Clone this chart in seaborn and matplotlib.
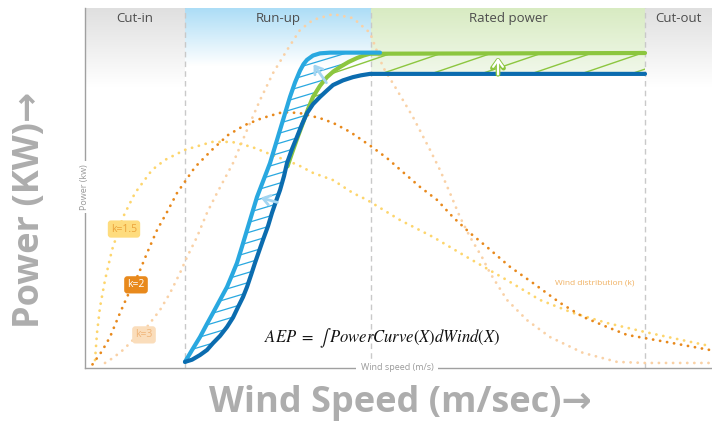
import numpy as np
import pandas as pd
import seaborn as sns
import matplotlib.pyplot as plt
import matplotlib.colors as mcolors
from matplotlib.patches import Polygon

# ---- data (x = wind speed, y = relative power / density in %) ----
regions = ['Cut-in', 'Run-up', 'Rated power', 'Cut-out']
region_edges = [0.0, 4.0, 11.44, 22.4, 25.08]

k15_x = [0.40, 0.48, 0.60, 0.80, 1.08, 1.52, 2.00, 2.68, 3.20, 4.00, 5.08, 5.88, 6.68, 7.48, 8.52,
         9.12, 9.92, 10.72, 11.28, 12.60, 13.92, 15.28, 16.88, 18.20, 19.52, 20.88, 22.40, 23.52, 25.00]
k15_y = [2.2, 9.7, 16.9, 24.4, 32.8, 41.9, 48.6, 55.0, 57.8, 60.6, 62.8, 62.8, 61.4, 59.2, 56.4,
         54.2, 52.2, 48.6, 46.7, 41.1, 36.4, 30.8, 24.4, 18.9, 15.3, 12.5, 10.0, 8.3, 6.1]

k2_x = [0.30, 0.68, 1.00, 1.40, 1.72, 2.12, 2.48, 2.88, 3.28, 3.68, 4.40, 5.08, 5.72, 6.40, 7.08,
        7.92, 8.60, 9.40, 9.92, 10.60, 11.48, 12.08, 12.72, 13.40, 14.08, 14.72, 15.40, 16.08,
        17.00, 17.92, 19.00, 19.92, 20.88, 21.68, 22.40, 23.52, 25.00]
k2_y = [1.0, 4.7, 8.6, 15.3, 20.3, 25.8, 31.9, 38.3, 43.3, 48.6, 55.8, 60.6, 64.7, 67.5, 69.4,
        71.1, 70.8, 69.4, 68.1, 65.6, 61.4, 58.3, 54.4, 50.3, 46.7, 41.9, 37.5, 33.6,
        28.1, 23.6, 18.1, 14.2, 11.4, 9.2, 8.3, 6.9, 5.0]

k3_x = [0.80, 1.12, 1.52, 1.92, 2.48, 3.00, 3.40, 3.80, 4.08, 4.48, 4.88, 5.28, 5.92, 6.48, 7.00,
        7.52, 8.08, 8.60, 9.12, 9.92, 10.72, 11.40, 11.92, 12.48, 13.12, 13.80, 14.20, 14.60,
        15.00, 15.40, 15.88, 16.20, 16.88, 17.68, 18.60, 19.92, 21.28, 22.40, 25.00]
k3_y = [1.4, 2.8, 5.0, 7.8, 11.4, 16.1, 20.8, 26.4, 30.8, 36.4, 43.1, 48.6, 56.9, 66.1, 74.4,
        81.9, 88.3, 93.9, 96.7, 98.3, 97.2, 93.1, 83.6, 77.2, 69.7, 60.6, 55.0, 48.6,
        41.9, 36.4, 30.8, 26.4, 18.9, 13.3, 8.6, 4.2, 1.7, 1.4, 1.4]

# power curves
base_x = [4.00, 4.28, 4.60, 4.88, 5.12, 5.40, 5.68, 5.92, 6.12, 6.32, 6.48, 6.64, 6.80, 6.96,
          7.12, 7.32, 7.48, 7.64, 7.80, 7.96, 8.08, 8.28, 8.48, 8.68, 8.88, 9.12, 9.40,
          9.68, 9.92, 10.32, 10.72, 11.04, 11.40, 22.40]
base_y = [1.7, 2.3, 3.6, 5.0, 6.9, 8.9, 11.4, 14.0, 16.9, 19.7, 22.5, 25.8, 29.2, 32.4,
          35.6, 39.4, 43.1, 46.3, 49.4, 53.3, 56.9, 60.8, 64.2, 67.7, 70.8, 73.3, 75.3,
          77.1, 78.6, 79.9, 80.8, 81.3, 81.7, 81.7]

runup_x = [4.00, 4.30, 4.60, 4.86, 5.12, 5.40, 5.68, 5.88, 6.08, 6.28, 6.48, 6.68, 6.88, 7.14,
           7.40, 7.60, 7.80, 8.00, 8.20, 8.40, 8.60, 8.74, 8.88, 9.12, 9.40, 9.80, 10.20, 11.80]
runup_y = [1.7, 5.2, 8.6, 12.0, 15.3, 18.9, 22.5, 25.8, 29.2, 33.7, 38.3, 42.9, 47.5, 52.2,
           56.9, 61.5, 66.1, 70.7, 75.3, 79.3, 82.6, 84.4, 85.6, 86.8, 87.4, 87.6, 87.6, 87.6]

rated_x = [8.10, 8.28, 8.50, 8.72, 8.92, 9.12, 9.40, 9.68, 9.94, 10.20, 10.54, 10.88, 11.14, 11.40, 22.40]
rated_y = [56.0, 59.7, 64.0, 68.1, 71.9, 75.3, 78.4, 80.8, 82.4, 83.6, 85.0, 86.1, 86.8, 87.3, 87.5]

k_labels = ['k=1.5', 'k=2', 'k=3']
k_label_x = [1.56, 2.04, 2.36]
k_label_y = [38.6, 23.1, 9.2]

# ---- styling ----
sns.set_style('white')
plt.rcParams['font.family'] = ['Open Sans', 'DejaVu Sans']
plt.rcParams['mathtext.fontset'] = 'stix'

c_k15, c_k2, c_k3 = '#FDD56C', '#E8891C', '#F9D1A6'
c_base, c_runup, c_rated = '#0B6CAF', '#29A8E0', '#8CC63F'

fig = plt.figure(figsize=(7.12, 4.21), dpi=100)
ax = fig.add_axes([85 / 712, 53 / 421, 627 / 712, 360 / 421])


def vgrad(x0, x1, y0, y1, top, bottom):
    t = np.linspace(0, 1, 256)[:, None]
    img = (1 - t) * np.array(mcolors.to_rgb(top)) + t * np.array(mcolors.to_rgb(bottom))
    ax.imshow(img[:, None, :], extent=(x0, x1, y0, y1), aspect='auto', origin='upper', zorder=0)


# background bands
vgrad(region_edges[0], region_edges[1], 78, 100, '#DFDFDF', '#FFFFFF')
vgrad(region_edges[1], region_edges[2], 84, 100, '#ACDDF6', '#FFFFFF')
vgrad(region_edges[2], region_edges[3], 81.7, 100, '#D8EBC2', '#F1F8EA')
vgrad(region_edges[3], region_edges[4], 78, 100, '#DFDFDF', '#FFFFFF')

for xe in region_edges[1:4]:
    ax.axvline(xe, color='#C9C9C9', lw=1, ls=(0, (4, 3)), zorder=1)

for i, name in enumerate(regions):
    xm = (region_edges[i] + region_edges[i + 1]) / 2
    ax.text(xm, 97.2, name, ha='center', va='center', fontsize=9.5, color='#4D4D4D', zorder=6)

# wind distributions (dotted)
dots = dict(lw=2.0, ls=(0, (0.05, 2.5)), dash_capstyle='round', estimator=None, sort=False)
for xs, ys, col in [(k3_x, k3_y, c_k3), (k15_x, k15_y, c_k15), (k2_x, k2_y, c_k2)]:
    sns.lineplot(x=xs, y=ys, color=col, ax=ax, zorder=2, **dots)

# hatched areas
def hatch(xs, ys, color, slope, step, lw):
    poly = Polygon(np.column_stack([xs, ys]), closed=True, fc='none', ec='none')
    ax.add_patch(poly)
    for c in np.arange(-slope * 25 - 10, 110, step):
        ln, = ax.plot([0, 25], [c, c + slope * 25], color=color, lw=lw, zorder=3)
        ln.set_clip_path(poly)


blue_poly_x = runup_x + rated_x[::-1][1:] + [x for x in base_x[::-1] if x <= 8.1]
blue_poly_y = runup_y + rated_y[::-1][1:] + [y for x, y in zip(base_x[::-1], base_y[::-1]) if x <= 8.1]
hatch(blue_poly_x, blue_poly_y, c_runup, 0.3 * 25 / 3.6, 10 / 3.6, 0.9)

green_poly_x = rated_x + [x for x in base_x[::-1] if x >= 8.08]
green_poly_y = rated_y + [y for x, y in zip(base_x[::-1], base_y[::-1]) if x >= 8.08]
hatch(green_poly_x, green_poly_y, c_rated, 0.34 * 25 / 3.6, 17 / 3.6, 1.0)

# power curves
curve = dict(lw=3, estimator=None, sort=False, ax=ax, zorder=4,
             solid_joinstyle='round', solid_capstyle='round')
sns.lineplot(x=rated_x, y=rated_y, color=c_rated, **curve)
sns.lineplot(x=runup_x, y=runup_y, color=c_runup, **curve)
sns.lineplot(x=base_x, y=base_y, color=c_base, **curve)

# shift arrows
for (x0, y0), (x1, y1) in [((9.72, 78.6), (9.08, 85.0)), ((7.80, 45.8), (6.92, 47.5))]:
    ax.annotate('', xy=(x1, y1), xytext=(x0, y0), zorder=5,
                arrowprops=dict(arrowstyle='->,head_length=0.5,head_width=0.35', color='#A3D5F1', lw=2))
ax.annotate('', xy=(16.52, 87.3), xytext=(16.52, 80.8), zorder=5,
            arrowprops=dict(arrowstyle='->,head_length=0.55,head_width=0.4', color=c_rated, lw=3.4))
ax.annotate('', xy=(16.52, 86.9), xytext=(16.52, 80.8), zorder=5,
            arrowprops=dict(arrowstyle='->,head_length=0.5,head_width=0.35', color='white', lw=1.6))

# k labels
k_styles = [('#FEDC7E', '#EBA33A'), ('#E8891C', 'white'), ('#FADDBB', '#F0B478')]
for lab, lx, ly, (bg, fg) in zip(k_labels, k_label_x, k_label_y, k_styles):
    ax.text(lx, ly, lab, ha='center', va='center', fontsize=7.5, color=fg, zorder=6,
            bbox=dict(boxstyle='round,pad=0.3,rounding_size=0.3', fc=bg, ec='none'))

ax.text(20.4, 23.6, 'Wind distribution (k)', ha='center', va='center', fontsize=6,
        color='#F0B060', zorder=6)

# AEP formula
ax.text(11.88, 8.3, r'$AEP\ =\ \int\, PowerCurve(X)dWind(X)$', ha='center', va='center',
        fontsize=12, color='#111111', zorder=6)

# small axis labels sitting on the axis lines
ax.text(0, 50.3, 'Power (kw)', rotation=90, ha='center', va='center', fontsize=6.5,
        color='#9A9A9A', zorder=6, bbox=dict(fc='white', ec='none', pad=2))
ax.text(12.48, 0, 'Wind speed (m/s)', ha='center', va='center', fontsize=6.5,
        color='#9A9A9A', zorder=6, bbox=dict(fc='white', ec='none', pad=3), clip_on=False)

ax.set_xlim(0, 25.08)
ax.set_ylim(0, 100)
ax.set_xticks([])
ax.set_yticks([])
ax.set_xlabel('')
ax.set_ylabel('')
sns.despine(ax=ax)
for s in ['left', 'bottom']:
    ax.spines[s].set_color('#A0A0A0')
    ax.spines[s].set_linewidth(1)
    ax.spines[s].set_zorder(5)

fig.text(30 / 712, 1 - 210 / 421, 'Power (KW)→', rotation=90, ha='center', va='center',
         fontsize=26, fontweight='bold', color='#ADADAD')
fig.text(400 / 712, 1 - 403 / 421, 'Wind Speed (m/sec)→', ha='center', va='center',
         fontsize=26, fontweight='bold', color='#ADADAD')

fig.savefig('out.png', dpi=100)
